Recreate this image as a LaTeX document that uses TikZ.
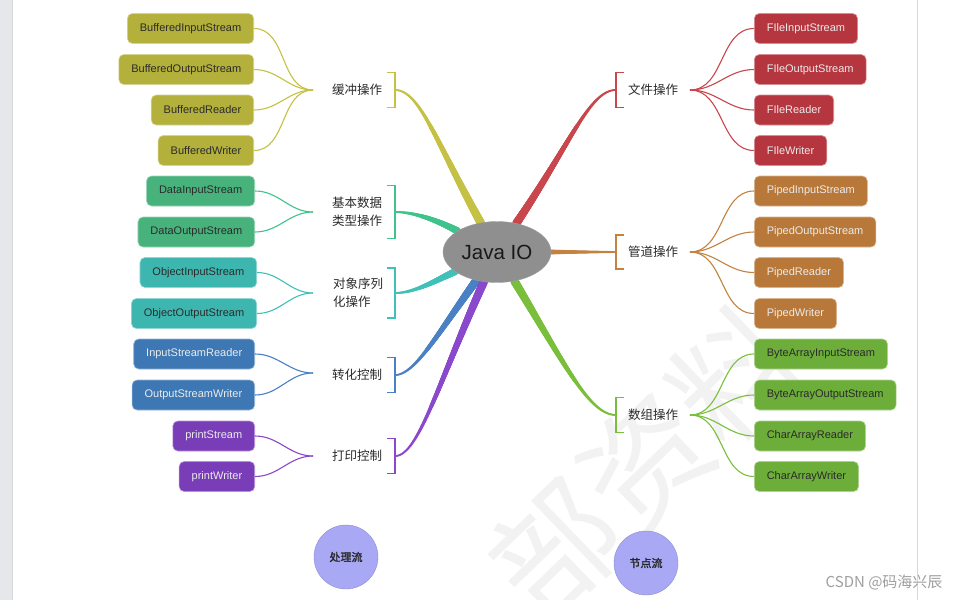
\documentclass[tikz,border=0pt]{standalone}
\usepackage{fontspec}
\setmainfont{Liberation Sans}
\newfontfamily\cjkfont{Noto Sans CJK SC}
\newfontfamily\cjkheavy[FakeBold=1.6]{Noto Sans CJK SC}
\usetikzlibrary{shapes.geometric,decorations.markings,backgrounds}
\definecolor{bufcol}{HTML}{B4B03C}
\definecolor{bufline}{HTML}{C5C144}
\definecolor{datacol}{HTML}{47B27B}
\definecolor{dataline}{HTML}{3EC48B}
\definecolor{objcol}{HTML}{3DB6B0}
\definecolor{objline}{HTML}{3FC1B8}
\definecolor{convcol}{HTML}{3E78B4}
\definecolor{convline}{HTML}{4A80C4}
\definecolor{printcol}{HTML}{7A3DB8}
\definecolor{printline}{HTML}{8A48CC}
\definecolor{filecol}{HTML}{B5363E}
\definecolor{fileline}{HTML}{C8464C}
\definecolor{pipecol}{HTML}{B7783A}
\definecolor{pipeline}{HTML}{C3823F}
\definecolor{arrcol}{HTML}{6DAE3A}
\definecolor{arrline}{HTML}{7ABF3C}
\definecolor{hubgray}{HTML}{8F8F8F}
\definecolor{dotblue}{HTML}{A8A8F4}
\definecolor{darktext}{HTML}{2B2B2B}
\definecolor{edgegray}{HTML}{E6E7EA}
\tikzset{
  leaf/.style={
    draw=#1!55!white,
    fill=#1,
    line width=0.6pt,
    rounded corners=5pt,
    minimum height=30pt,
    inner xsep=12.5pt,
    text=darktext,
    font=\fontsize{11}{13}\selectfont
  },
  leaflight/.style={leaf=#1, text=white!92!black},
  grouplabel/.style={
    align=center,
    inner sep=1pt,
    text=darktext,
    font=\cjkfont\fontsize{12.5}{18}\selectfont
  },
  hub/.style={
    ellipse,
    draw=hubgray!85!white,
    fill=hubgray,
    minimum width=108pt,
    minimum height=61pt,
    inner sep=0pt,
    text=black!90,
    font=\fontsize{20.5}{24}\selectfont
  },
  streamdot/.style={
    circle,
    draw=dotblue!85!black,
    fill=dotblue,
    minimum size=64pt,
    inner sep=0pt,
    text=black!85,
    font=\cjkheavy\fontsize{11}{13}\selectfont
  },
  fan/.style={draw=#1, line width=1.1pt},
  brk/.style={draw=#1, line width=1.1pt},
  branch width/.initial=4.2,
  branch/.style={
    postaction={decorate},
    decoration={markings,
      mark=between positions 0 and 1 step 0.5pt with {
        \pgfmathsetmacro\tw{\pgfkeysvalueof{/tikz/branch width}-(\pgfkeysvalueof{/tikz/branch width}-0.9)*\pgfkeysvalueof{/pgf/decoration/mark info/distance from start}/\pgfdecoratedpathlength}
        \fill[#1] (0,0) circle (\tw pt);
      }}
  }
}
% brackets beside the group labels
\newcommand{\lbracket}[3]{\draw[brk=#1] ([shift={(-8,#3)}]#2) -| ([shift={(0,-#3)}]#2) -- ++(-8,0);}
\newcommand{\rbracket}[3]{\draw[brk=#1] ([shift={(8,#3)}]#2) -| ([shift={(0,-#3)}]#2) -- ++(8,0);}

\begin{document}
\begin{tikzpicture}[x=1pt,y=1pt]
\useasboundingbox (0,0) rectangle (962,-600);

\node[hub] (java) at (497,-252) {Java IO};

% group labels, bracket points and fan points
\node[grouplabel] (buf) at (357,-90) {缓冲操作};
\node[grouplabel] (data) at (357,-212) {基本数据\\类型操作};
\node[grouplabel, align=left] (obj) at (358,-293) {对象序列\\化操作};
\node[grouplabel] (conv) at (357,-375) {转化控制};
\node[grouplabel] (prt) at (357,-456) {打印控制};
\node[grouplabel] (file) at (653,-90) {文件操作};
\node[grouplabel] (pipe) at (653,-252) {管道操作};
\node[grouplabel] (arr) at (653,-415) {数组操作};

\coordinate (bufB) at (395,-90);
\coordinate (dataB) at (395,-212);
\coordinate (objB) at (395,-293);
\coordinate (convB) at (395,-375);
\coordinate (prtB) at (395,-456);
\coordinate (fileB) at (616,-90);
\coordinate (pipeB) at (616,-252);
\coordinate (arrB) at (616,-415);

\coordinate (bufF) at (313,-90);
\coordinate (dataF) at (313,-212);
\coordinate (objF) at (313,-293);
\coordinate (convF) at (313,-373);
\coordinate (prtF) at (313,-456);
\coordinate (fileF) at (690,-90);
\coordinate (pipeF) at (690,-252);
\coordinate (arrF) at (690,-415);

\lbracket{bufline}{bufB}{17.5}
\lbracket{dataline}{dataB}{26.5}
\lbracket{objline}{objB}{25}
\lbracket{convline}{convB}{17.5}
\lbracket{printline}{prtB}{17.5}
\rbracket{fileline}{fileB}{17.5}
\rbracket{pipeline}{pipeB}{17}
\rbracket{arrline}{arrB}{17.5}

% left leaves
\node[leaf=bufcol, anchor=east] (bis) at (254,-28.5) {BufferedInputStream};
\node[leaf=bufcol, anchor=east] (bos) at (254,-69.5) {BufferedOutputStream};
\node[leaf=bufcol, anchor=east] (brd) at (254,-110) {BufferedReader};
\node[leaf=bufcol, anchor=east] (bwr) at (254,-150.5) {BufferedWriter};
\node[leaf=datacol, anchor=east] (dis) at (255,-191) {DataInputStream};
\node[leaf=datacol, anchor=east] (dos) at (255,-232) {DataOutputStream};
\node[leaf=objcol, anchor=east] (ois) at (257,-272.5) {ObjectInputStream};
\node[leaf=objcol, anchor=east] (oos) at (257,-313.5) {ObjectOutputStream};
\node[leaflight=convcol, anchor=east] (isr) at (255,-354) {InputStreamReader};
\node[leaflight=convcol, anchor=east] (osw) at (255,-395) {OutputStreamWriter};
\node[leaflight=printcol, anchor=east] (pst) at (255,-436) {printStream};
\node[leaflight=printcol, anchor=east] (pwr) at (255,-476.5) {printWriter};

% right leaves
\node[leaflight=filecol, anchor=west] (fis) at (754,-28.5) {FIleInputStream};
\node[leaflight=filecol, anchor=west] (fos) at (754,-69.5) {FIleOutputStream};
\node[leaflight=filecol, anchor=west] (frd) at (754,-110) {FIleReader};
\node[leaflight=filecol, anchor=west] (fwr) at (754,-150.5) {FIleWriter};
\node[leaflight=pipecol, anchor=west] (pis) at (754,-191) {PipedInputStream};
\node[leaflight=pipecol, anchor=west] (pos) at (754,-232) {PipedOutputStream};
\node[leaflight=pipecol, anchor=west] (prd) at (754,-272.5) {PipedReader};
\node[leaflight=pipecol, anchor=west] (pwt) at (754,-313.5) {PipedWriter};
\node[leaf=arrcol, anchor=west] (bais) at (754,-354) {ByteArrayInputStream};
\node[leaf=arrcol, anchor=west] (baos) at (754,-395) {ByteArrayOutputStream};
\node[leaf=arrcol, anchor=west] (card) at (754,-436) {CharArrayReader};
\node[leaf=arrcol, anchor=west] (cawr) at (754,-476.5) {CharArrayWriter};

% fans
\foreach \n in {bis,bos,brd,bwr} \draw[fan=bufline] (bufF) to[out=180,in=0] (\n.east);
\foreach \n in {dis,dos} \draw[fan=dataline] (dataF) to[out=180,in=0] (\n.east);
\foreach \n in {ois,oos} \draw[fan=objline] (objF) to[out=180,in=0] (\n.east);
\foreach \n in {isr,osw} \draw[fan=convline] (convF) to[out=180,in=0] (\n.east);
\foreach \n in {pst,pwr} \draw[fan=printline] (prtF) to[out=180,in=0] (\n.east);
\foreach \n in {fis,fos,frd,fwr} \draw[fan=fileline] (fileF) to[out=0,in=180] (\n.west);
\foreach \n in {pis,pos,prd,pwt} \draw[fan=pipeline] (pipeF) to[out=0,in=180] (\n.west);
\foreach \n in {bais,baos,card,cawr} \draw[fan=arrline] (arrF) to[out=0,in=180] (\n.west);

% stream kinds
\node[streamdot] (proc) at (346,-557) {处理流};
\node[streamdot] (nodeflow) at (646,-563) {节点流};
\node[anchor=east, text=gray!75, font=\cjkfont\fontsize{15}{18}\selectfont] (csdn) at (946,-582) {CSDN @码海兴辰};

\begin{scope}[on background layer]
\fill[white] (0,0) rectangle (962,-600);
\fill[edgegray] (0,0) rectangle (12,-600);
\draw[gray!30, line width=0.8pt] (12,0) -- (12,-600);
\draw[gray!30, line width=0.8pt] (917,0) -- (917,-600);
\node[rotate=44, text=gray!10, font=\cjkfont\fontsize{125}{125}\selectfont] (mark) at (645,-462) {部资料};
% main branches
\path[branch=bufline] (java) to[out=119,in=0,out looseness=1.5,in looseness=0.4] (bufB);
\path[branch=dataline, branch width=3.6] (java) to[out=152,in=0,out looseness=0.8,in looseness=0.8] (dataB);
\path[branch=objline, branch width=3.6] (java) to[out=205,in=0,out looseness=0.8,in looseness=0.8] (objB);
\path[branch=convline] (java) to[out=234,in=0,out looseness=1.4,in looseness=0.4] (convB);
\path[branch=printline] (java) to[out=246,in=0,out looseness=1.5,in looseness=0.3] (prtB);
\path[branch=fileline] (java) to[out=56,in=180,out looseness=1.5,in looseness=0.4] (fileB);
\path[branch=pipeline, branch width=2.3] (java) -- (pipeB);
\path[branch=arrline] (java) to[out=-59,in=180,out looseness=1.5,in looseness=0.4] (arrB);
\end{scope}
\end{tikzpicture}
\end{document}
